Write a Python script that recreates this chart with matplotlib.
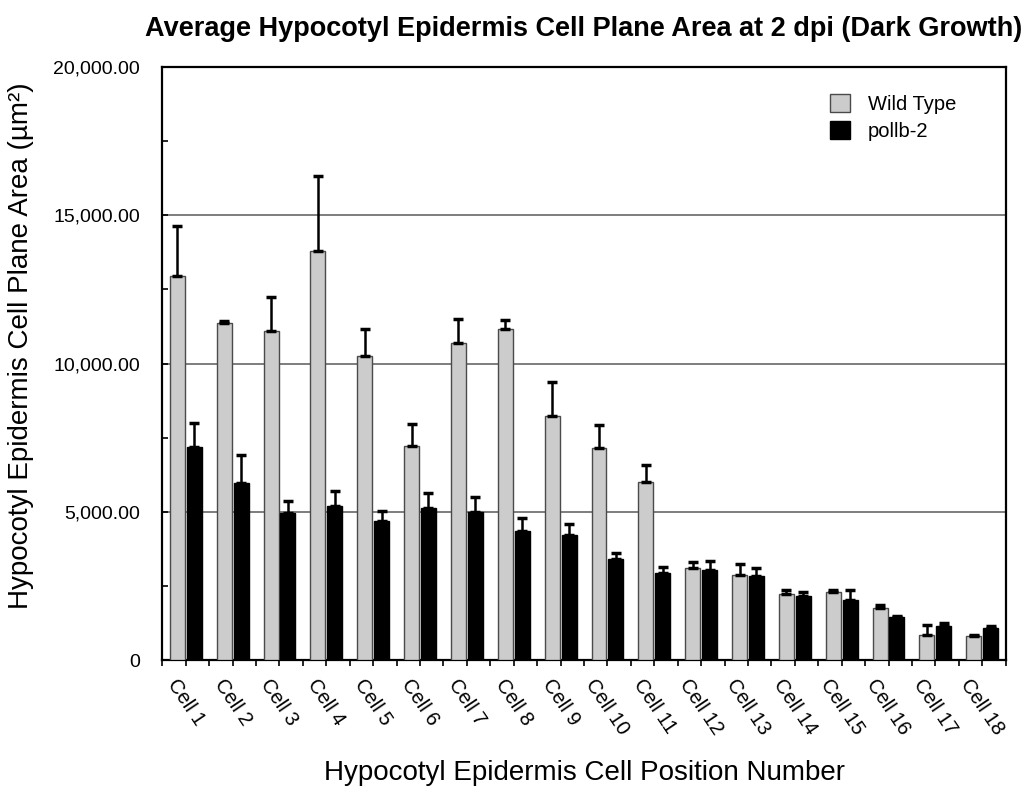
import numpy as np
import matplotlib
matplotlib.use("Agg")
import matplotlib.pyplot as plt
from matplotlib.ticker import FuncFormatter, MultipleLocator, FixedLocator

plt.rcParams['font.family'] = ['Liberation Sans', 'DejaVu Sans']

cells = ["Cell %d" % i for i in range(1, 19)]

# mean cell plane area (um^2) and upper error, wild type vs pollb-2
wild_type = [12950, 11370, 11110, 13800, 10260, 7210, 10680, 11180, 8250,
             7150, 6020, 3110, 2880, 2230, 2320, 1780, 850, 840]
wild_type_err = [1700, 60, 1120, 2520, 890, 770, 830, 300, 1120,
                 780, 570, 200, 370, 140, 50, 100, 330, 30]
pollb2 = [7180, 5980, 4980, 5190, 4690, 5150, 5010, 4360, 4220,
          3410, 2960, 3060, 2840, 2170, 2030, 1470, 1160, 1080]
pollb2_err = [820, 930, 390, 510, 340, 500, 490, 440, 380,
              210, 180, 280, 260, 140, 340, 20, 90, 90]

x = np.arange(len(cells))
w = 0.32
off = 0.18

fig = plt.figure(figsize=(10.32, 7.91), dpi=100)
ax = fig.add_axes([0.1573, 0.165, 0.8172, 0.7507])

err_kw = dict(ecolor='black', elinewidth=1.8, capsize=3.5, capthick=2.5)
ax.bar(x - off, wild_type, w, color='#cbcccb', edgecolor='#4a4a4a', linewidth=1,
       yerr=[np.zeros(len(x)), wild_type_err], error_kw=err_kw, label='Wild Type', zorder=3)
ax.bar(x + off, pollb2, w, color='black', edgecolor='black', linewidth=1,
       yerr=[np.zeros(len(x)), pollb2_err], error_kw=err_kw, label='pollb-2', zorder=3)

ax.set_xlim(-0.5, len(cells) - 0.5)
ax.set_ylim(0, 20000)

ax.yaxis.set_major_locator(MultipleLocator(5000))
ax.yaxis.set_minor_locator(MultipleLocator(2500))
ax.yaxis.set_major_formatter(FuncFormatter(lambda v, p: "0" if v == 0 else "{:,.2f}".format(v)))
ax.grid(axis='y', which='major', color='#5a5a5a', linewidth=1.1, zorder=0)

ax.set_xticks(x)
ax.set_xticklabels(cells, rotation=-56, ha='center', fontsize=14.5)
ax.xaxis.set_minor_locator(FixedLocator(np.arange(-0.5, len(cells), 1.0)))

ax.tick_params(axis='y', which='both', direction='in', length=4, width=1.2,
               labelsize=14, pad=16, colors='black')
ax.tick_params(axis='x', which='both', direction='out', length=4, width=1.2, pad=7)

for s in ax.spines.values():
    s.set_linewidth(1.6)

ax.set_title("Average Hypocotyl Epidermis Cell Plane Area at 2 dpi (Dark Growth)",
             fontsize=19.5, fontweight='bold', pad=22)
ax.set_ylabel("Hypocotyl Epidermis Cell Plane Area (µm²)", fontsize=20)
ax.set_xlabel("Hypocotyl Epidermis Cell Position Number", fontsize=20)
ax.yaxis.set_label_coords(-0.152, 0.53)
ax.xaxis.set_label_coords(0.5, -0.168)

ax.legend(loc='upper left', bbox_to_anchor=(0.77, 0.985), frameon=False,
          fontsize=14.5, handlelength=1.0, handleheight=1.0, handletextpad=0.9,
          labelspacing=0.35)

fig.savefig("out.png", dpi=100)
